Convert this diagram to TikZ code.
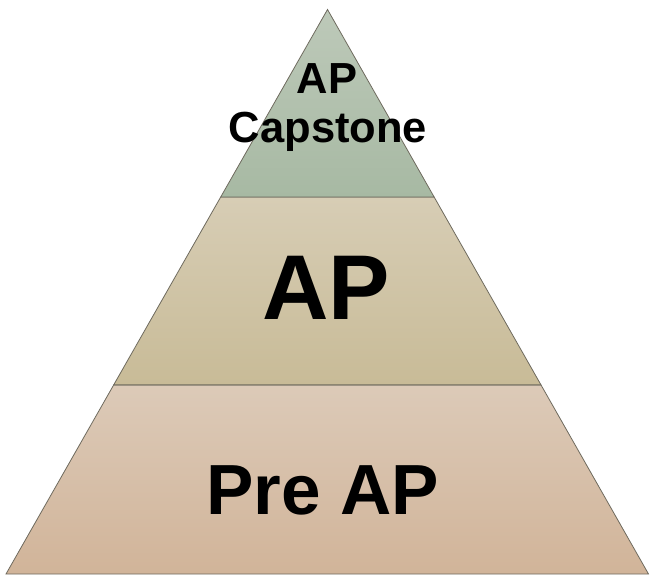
\documentclass[tikz,border=0pt]{standalone}
\usepackage{fontspec}
\setmainfont{Liberation Sans}
\usetikzlibrary{calc}
\definecolor{gtop}{HTML}{BDC9B9}
\definecolor{gbot}{HTML}{A7B9A3}
\definecolor{mtop}{HTML}{D7CDB5}
\definecolor{mbot}{HTML}{C8BB97}
\definecolor{btop}{HTML}{DCCAB8}
\definecolor{bbot}{HTML}{D1B499}
\definecolor{edge}{HTML}{6E6A5E}
\tikzset{
  layer/.style={draw=edge, line width=0.8pt, line join=miter},
  lbl/.style={anchor=base, inner sep=0pt, font=\bfseries},
}
\begin{document}
\begin{tikzpicture}[x=1pt,y=1pt]
\useasboundingbox (0,0) rectangle (655,581);
\coordinate (apex) at (327.5,571.5);
\coordinate (bl) at (6,7);
\coordinate (br) at (648.5,7);
\coordinate (l1) at ($(apex)!0.332!(bl)$);
\coordinate (r1) at ($(apex)!0.332!(br)$);
\coordinate (l2) at ($(apex)!0.665!(bl)$);
\coordinate (r2) at ($(apex)!0.665!(br)$);
\path[layer, top color=btop, bottom color=bbot] (l2) -- (r2) -- (br) -- (bl) -- cycle;
\path[layer, top color=mtop, bottom color=mbot] (l1) -- (r1) -- (r2) -- (l2) -- cycle;
\path[layer, top color=gtop, bottom color=gbot] (apex) -- (r1) -- (l1) -- cycle;
\node[lbl, font=\bfseries\fontsize{43.5}{49}\selectfont] (t1) at (327,487) {AP};
\node[lbl, font=\bfseries\fontsize{43.5}{49}\selectfont] (t2) at (328,438) {Capstone};
\node[lbl, font=\bfseries\fontsize{92}{100}\selectfont] (t3) at (326,261) {AP};
\node[lbl, font=\bfseries\fontsize{71}{80}\selectfont] (t4) at (322.5,67) {Pre AP};
\end{tikzpicture}
\end{document}
